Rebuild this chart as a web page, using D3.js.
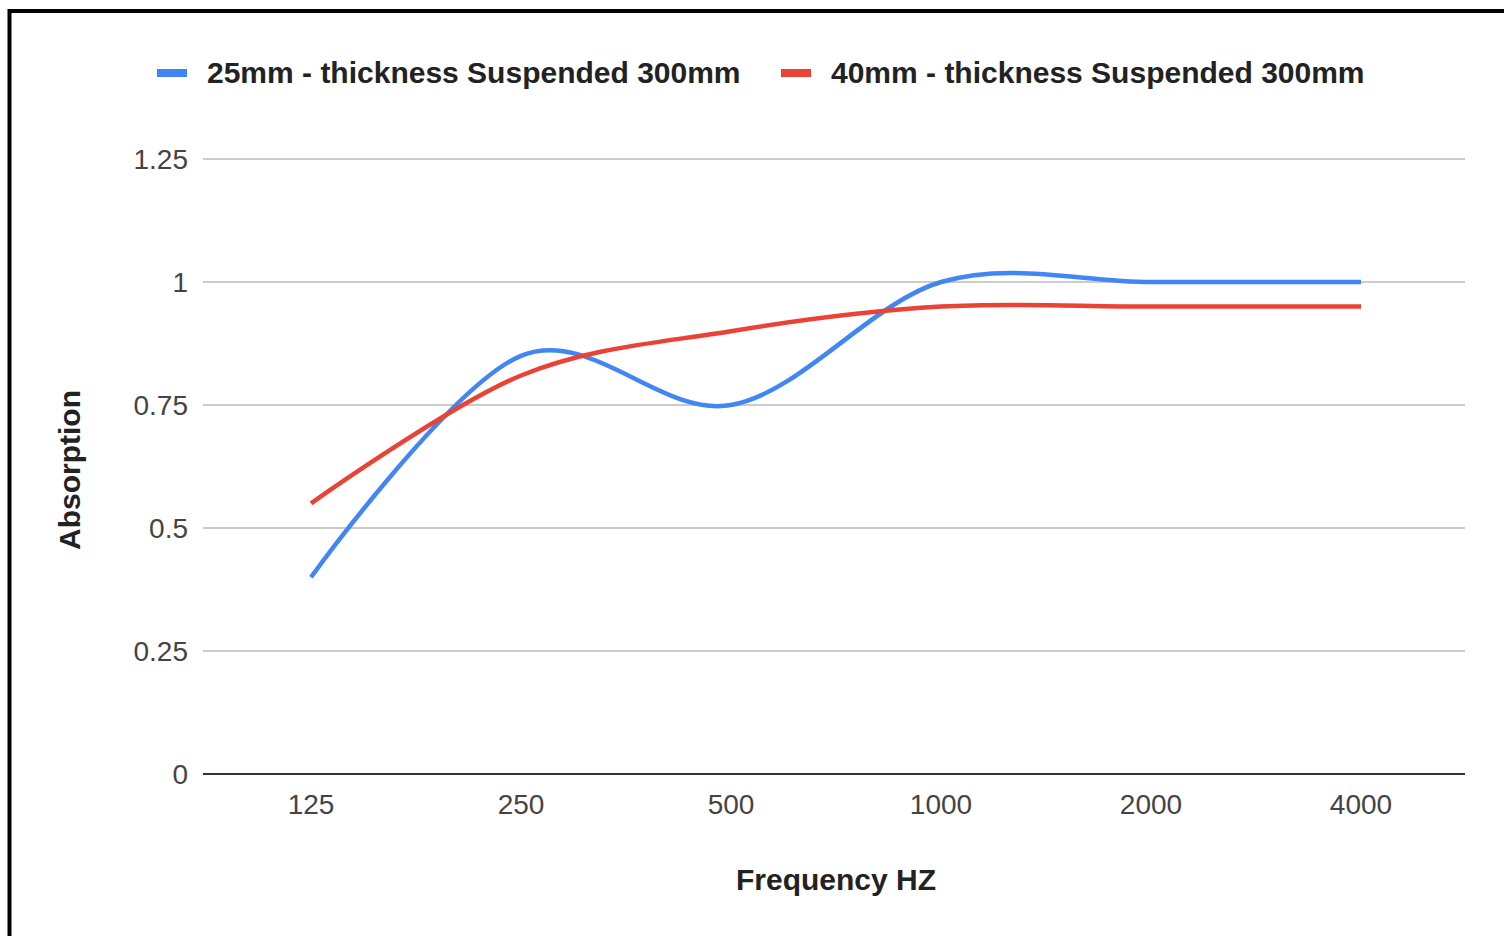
<!DOCTYPE html>
<html><head><meta charset="utf-8">
<script src="https://cdn.jsdelivr.net/npm/d3@7"></script>
<style>html,body{margin:0;padding:0;background:#fff;}svg{display:block;font-family:"Liberation Sans",Arial,sans-serif;}</style>
</head><body>
<svg id="c" width="1504" height="936"></svg>
<script>
const categories = ["125","250","500","1000","2000","4000"];
const series25 = [0.40, 0.85, 0.75, 1.00, 1.00, 1.00];
const series40 = [0.55, 0.81, 0.90, 0.95, 0.95, 0.95];
const seriesNames = ["25mm - thickness Suspended 300mm","40mm - thickness Suspended 300mm"];
const seriesColors = ["#4285F4","#EA4335"];
const yTicks = [0,0.25,0.5,0.75,1,1.25];
const yTickLabels = ["0","0.25","0.5","0.75","1","1.25"];

const svg = d3.select("#c");
svg.append("rect").attr("x",9.5).attr("y",11).attr("width",1700).attr("height",1100)
  .attr("fill","none").attr("stroke","#000").attr("stroke-width",4);

const x = d3.scalePoint().domain(categories).range([206,1466]).padding(0.5);
const y = d3.scaleLinear().domain([0,1.25]).range([774,159]);
const L = 203, R = 1465;

// gridlines
svg.append("g").selectAll("line").data(yTicks.filter(d=>d>0)).join("line")
  .attr("x1",L).attr("x2",R).attr("y1",d=>y(d)).attr("y2",d=>y(d))
  .attr("stroke","#cccccc").attr("stroke-width",2);

// y labels
svg.append("g").selectAll("text").data(yTicks).join("text")
  .attr("x",188).attr("y",d=>y(d)).attr("dy","0.36em").attr("text-anchor","end")
  .attr("font-size",28).attr("fill","#444").text((d,i)=>yTickLabels[i]);

// x labels
svg.append("g").selectAll("text").data(categories).join("text")
  .attr("x",d=>x(d)).attr("y",814).attr("text-anchor","middle")
  .attr("font-size",28).attr("fill","#444").text(d=>d);

// baseline
svg.append("line").attr("x1",L).attr("x2",R).attr("y1",y(0)).attr("y2",y(0))
  .attr("stroke","#333").attr("stroke-width",2);

const line = d3.line().x((d,i)=>x(categories[i])).y(d=>y(d)).curve(d3.curveCardinal.tension(0));
[series25, series40].forEach((s,k)=>{
  svg.append("path").attr("d",line(s)).attr("fill","none")
    .attr("stroke",seriesColors[k]).attr("stroke-width",4.5).attr("stroke-linejoin","round");
});

// legend
const legX = [157, 781];
seriesNames.forEach((n,k)=>{
  svg.append("rect").attr("x",legX[k]).attr("y",69).attr("width",30).attr("height",8).attr("fill",seriesColors[k]);
  svg.append("text").attr("x",legX[k]+50).attr("y",83).attr("font-size",30).attr("font-weight","bold")
    .attr("fill","#222").text(n);
});

// axis titles
svg.append("text").attr("x",836).attr("y",890).attr("text-anchor","middle").attr("font-size",30)
  .attr("font-weight","bold").attr("fill","#222").text("Frequency HZ");
svg.append("text").attr("transform","translate(80,470) rotate(-90)").attr("text-anchor","middle")
  .attr("font-size",30).attr("font-weight","bold").attr("fill","#222").text("Absorption");
</script>
</body></html>
